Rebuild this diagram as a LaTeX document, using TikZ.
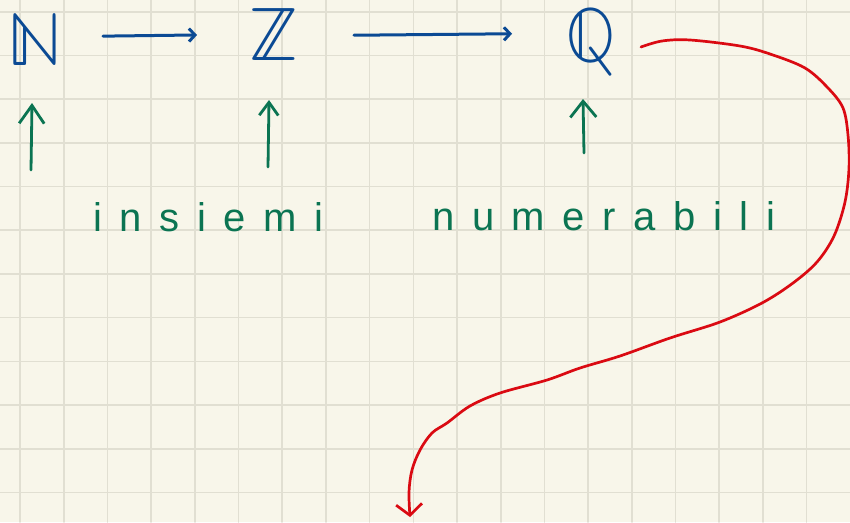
\documentclass[tikz,border=0pt]{standalone}
\usepackage{fontspec}
\setmainfont{Liberation Sans}
\newfontfamily\dsfont{latinmodern-math.otf}
\usetikzlibrary{arrows.meta}
\definecolor{paper}{HTML}{F8F6EA}
\definecolor{gridline}{HTML}{E1DFD2}
\definecolor{inkblue}{HTML}{0B4A94}
\definecolor{inkgreen}{HTML}{0B7452}
\definecolor{inkred}{HTML}{DA0A12}
\begin{document}
\begin{tikzpicture}[x=1pt, y=-1pt, line cap=round, line join=round,
  setsym/.style={inner sep=0pt, text=inkblue, font=\dsfont\fontsize{76}{76}\selectfont},
  word/.style={inner sep=0pt, anchor=base west, text=inkgreen,
    font=\fontsize{40}{40}\selectfont\addfontfeature{LetterSpace=44}},
  mapto/.style={draw=inkblue, line width=3pt,
    -{Straight Barb[length=6pt, width=13pt]}},
  uparrow/.style={draw=inkgreen, line width=2.8pt},
  redcurve/.style={draw=inkred, line width=2.7pt,
    -{Straight Barb[length=11pt, width=26pt]}}
]
% squared paper
\useasboundingbox (0,0) rectangle (850,522);
\fill[paper] (0,0) rectangle (850,522);
\foreach \k in {0,...,19}
  \draw[gridline, line width=1.6pt] ({20+43.7*\k},0) -- ({20+43.7*\k},522);
\foreach \k in {0,...,11}
  \draw[gridline, line width=1.6pt] (0,{11.7+43.7*\k}) -- (850,{11.7+43.7*\k});

% number sets
\node[setsym] (N) at (35,40) {ℕ};
\node[setsym] (Z) at (274,35) {ℤ};
\node[setsym] (Q) at (591,42) {ℚ};

% inclusions
\draw[mapto, shorten <=68pt, shorten >=77pt] ([yshift=3pt]N.center) -- ([yshift=1pt]Z.center);
\draw[mapto, shorten <=80pt, shorten >=79pt] ([yshift=-1pt]Z.center) -- ([yshift=9pt]Q.center);

% green arrows pointing at the sets
\coordinate (nb) at (31,170); \coordinate (nt) at (32,103);
\coordinate (zb) at (268,167); \coordinate (zt) at (269,100);
\coordinate (qb) at (584,153); \coordinate (qt) at (583,99);
\draw[uparrow, -{Straight Barb[length=18pt, width=25pt]}] (nb) -- (nt);
\draw[uparrow, -{Straight Barb[length=13pt, width=19pt]}] (zb) -- (zt);
\draw[uparrow, -{Straight Barb[length=16pt, width=26pt]}] (qb) -- (qt);

% caption
\node[word] (w1) at (93,231) {insiemi};
\node[word] (w2) at (432,230) {numerabili};

% long red arrow leaving Q
\coordinate (rs) at (641,47);
\coordinate (re) at (410,517);
\draw[redcurve] plot[smooth, tension=0.55] coordinates {
  (rs) (662,41) (690,40) (740,46) (770,54) (805,68) (828,88) (843,108)
  (848,135) (849,168) (845,202) (834,236) (817,262) (793,283) (762,303)
  (720,322) (670,338) (620,356) (580,368) (547,380) (500,393) (470,406)
  (447,423) (432,433) (420,450) (412,470) (409,492) (re)};
\end{tikzpicture}
\end{document}
